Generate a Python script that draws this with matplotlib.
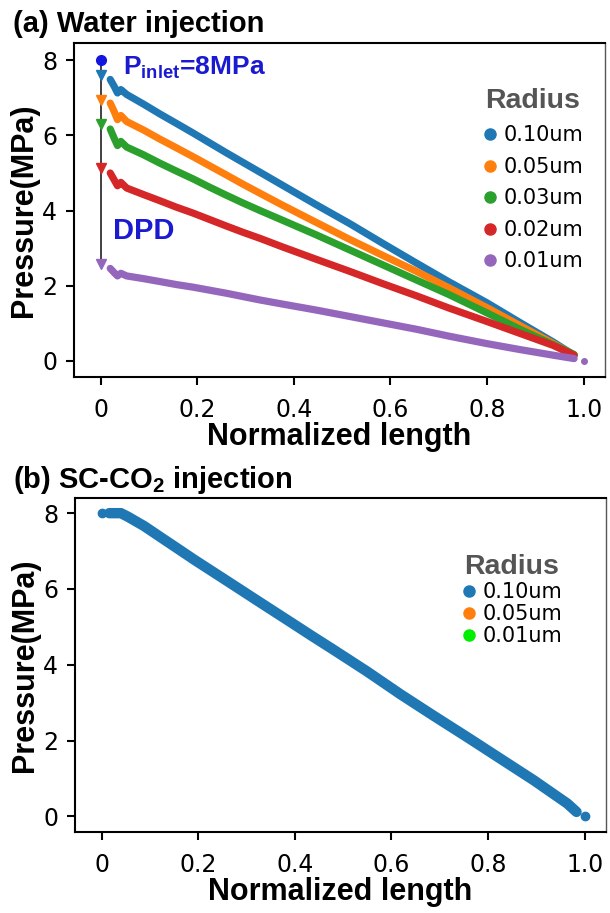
import matplotlib
matplotlib.use("Agg")
import matplotlib.pyplot as plt
from matplotlib.lines import Line2D
from matplotlib.font_manager import FontProperties

# ---- data ----
# (a) water injection, normalized length vs pressure (MPa)
water_x = [0.02, 0.028, 0.035, 0.042, 0.054, 0.088, 0.123, 0.157, 0.192, 0.226,
           0.26, 0.295, 0.33, 0.377, 0.447, 0.516, 0.585, 0.654, 0.72, 0.799,
           0.868, 0.937, 0.98]
p_010 = [7.49, 7.31, 7.13, 7.22, 7.09, 6.84, 6.57, 6.32, 6.06, 5.80, 5.54, 5.28,
         5.02, 4.67, 4.15, 3.65, 3.12, 2.60, 2.11, 1.55, 1.02, 0.50, 0.15]
p_005 = [6.86, 6.64, 6.42, 6.53, 6.37, 6.15, 5.90, 5.67, 5.43, 5.19, 4.95, 4.70,
         4.46, 4.14, 3.68, 3.23, 2.80, 2.38, 1.95, 1.42, 0.94, 0.46, 0.15]
p_003 = [6.17, 5.93, 5.73, 5.84, 5.69, 5.49, 5.26, 5.05, 4.84, 4.62, 4.41, 4.20,
         4.00, 3.74, 3.35, 2.95, 2.55, 2.15, 1.77, 1.28, 0.84, 0.43, 0.17]
p_002 = [5.00, 4.82, 4.66, 4.75, 4.60, 4.43, 4.26, 4.09, 3.93, 3.76, 3.59, 3.42,
         3.26, 3.03, 2.70, 2.38, 2.05, 1.73, 1.41, 1.05, 0.73, 0.41, 0.15]
p_001 = [2.46, 2.35, 2.26, 2.33, 2.26, 2.19, 2.11, 2.03, 1.96, 1.88, 1.80, 1.71,
         1.62, 1.51, 1.35, 1.18, 1.01, 0.84, 0.66, 0.46, 0.30, 0.15, 0.06]
water_series = [p_010, p_005, p_003, p_002, p_001]
water_labels = ["0.10um", "0.05um", "0.03um", "0.02um", "0.01um"]
water_colors = ["#1f77b4", "#ff7f0e", "#2ca02c", "#d62728", "#9467bd"]

inlet_x, inlet_p = 0.0, 8.0
outlet_x, outlet_p = 1.0, 0.0
# pressure right after the inlet drop (DPD arrow heads)
dpd_p = [7.60, 6.95, 6.30, 5.12, 2.59]

# (b) SC-CO2 injection
co2_x = [0.016, 0.04, 0.054, 0.088, 0.123, 0.157, 0.192, 0.226, 0.26, 0.295,
         0.33, 0.364, 0.398, 0.433, 0.481, 0.55, 0.619, 0.688, 0.757, 0.826,
         0.895, 0.964, 0.983]
co2_p = [8.0, 8.0, 7.91, 7.66, 7.36, 7.07, 6.77, 6.49, 6.21, 5.92, 5.63, 5.35,
         5.07, 4.78, 4.39, 3.82, 3.22, 2.65, 2.09, 1.52, 0.95, 0.34, 0.12]
co2_labels = ["0.10um", "0.05um", "0.01um"]
co2_colors = ["#1f77b4", "#ff7f0e", "#00ee00"]

x_ticks = [0, 0.2, 0.4, 0.6, 0.8, 1.0]
x_ticklabels = ["0", "0.2", "0.4", "0.6", "0.8", "1.0"]
y_ticks = [0, 2, 4, 6, 8]

plt.rcParams["font.family"] = ["DejaVu Sans"]
plt.rcParams["mathtext.fontset"] = "custom"
plt.rcParams["mathtext.rm"] = "Liberation Sans"
plt.rcParams["mathtext.bf"] = "Liberation Sans:bold"

bold = dict(family="Liberation Sans", weight="bold")
W, H = 610, 913
fig = plt.figure(figsize=(W / 100, H / 100), dpi=100)
ax1 = fig.add_axes([74 / W, 1 - 377 / H, (605 - 74) / W, (377 - 43) / H])
ax2 = fig.add_axes([75 / W, 1 - 832 / H, (606 - 75) / W, (832 - 498) / H])


def style(ax, ylim):
    ax.set_xlim(-0.055, 1.044)
    ax.set_ylim(*ylim)
    ax.set_xticks(x_ticks)
    ax.set_xticklabels(x_ticklabels)
    ax.set_yticks(y_ticks)
    ax.tick_params(axis="both", direction="out", length=6, width=1.5, labelsize=17)
    ax.tick_params(axis="x", pad=9)
    ax.tick_params(axis="y", pad=6)
    for s in ["left", "bottom", "top"]:
        ax.spines[s].set_linewidth(1.5)
    ax.spines["right"].set_linewidth(1.0)
    ax.spines["right"].set_color("#555555")
    ax.set_xlabel("Normalized length", fontsize=22, labelpad=0, **bold)
    ax.set_ylabel("Pressure(MPa)", fontsize=22, labelpad=2, **bold)


def radius_legend(ax, handles, labels, anchor, spacing):
    leg = ax.legend(handles, labels, title="Radius", loc="upper right",
                    bbox_to_anchor=anchor, bbox_transform=fig.transFigure,
                    frameon=False, prop=FontProperties(family="DejaVu Sans", size=15),
                    handlelength=0.7, handletextpad=0.3, labelspacing=spacing,
                    borderpad=0, borderaxespad=0,
                    title_fontproperties=FontProperties(size=20.5, **bold))
    leg.get_title().set_color("#555555")
    return leg


# ---- (a) ----
for p, c in zip(water_series, water_colors):
    ax1.plot(water_x, p, color=c, lw=5.2, solid_capstyle="round", solid_joinstyle="round")
ax1.plot([inlet_x, inlet_x], [inlet_p, min(dpd_p)], color="#333333", lw=1.3, zorder=3)
for p, c in zip(dpd_p, water_colors):
    ax1.plot(inlet_x, p, marker="v", ms=7, color=c, ls="", zorder=4)
ax1.plot(inlet_x, inlet_p, marker="o", ms=7, color="#1515e0", ls="", zorder=4)
ax1.plot(outlet_x, outlet_p, marker="o", ms=4, color=water_colors[-1], ls="")
ax1.text(0.046, 7.62, r"$\mathbf{P_{inlet}}$=8MPa", fontsize=19, color="#1a1ad0", **bold)
ax1.text(0.025, 3.24, "DPD", fontsize=21, color="#1a1ad0", **bold)
style(ax1, (-0.43, 8.46))

h1 = [Line2D([], [], ls="", marker="o", ms=8, color=c) for c in water_colors]
radius_legend(ax1, h1, water_labels, (583 / W, 1 - 88 / H), 0.55)

# ---- (b) ----
ax2.plot(co2_x, co2_p, color=co2_colors[0], lw=7.5, solid_capstyle="round", solid_joinstyle="round")
ax2.plot(inlet_x, inlet_p, marker="o", ms=6, color=co2_colors[0], ls="")
ax2.plot(outlet_x, outlet_p, marker="o", ms=6, color=co2_colors[0], ls="")
style(ax2, (-0.41, 8.40))

h2 = [Line2D([], [], ls="", marker="o", ms=8, color=c) for c in co2_colors]
radius_legend(ax2, h2, co2_labels, (562 / W, 1 - 554 / H), 0.1)

fig.text(13 / W, 1 - 32 / H, "(a) Water injection", fontsize=21, va="baseline", **bold)
fig.text(13 / W, 1 - 488 / H, r"(b) SC-CO$\mathbf{_2}$ injection", fontsize=21, va="baseline", **bold)

fig.savefig("out.png", dpi=100)
